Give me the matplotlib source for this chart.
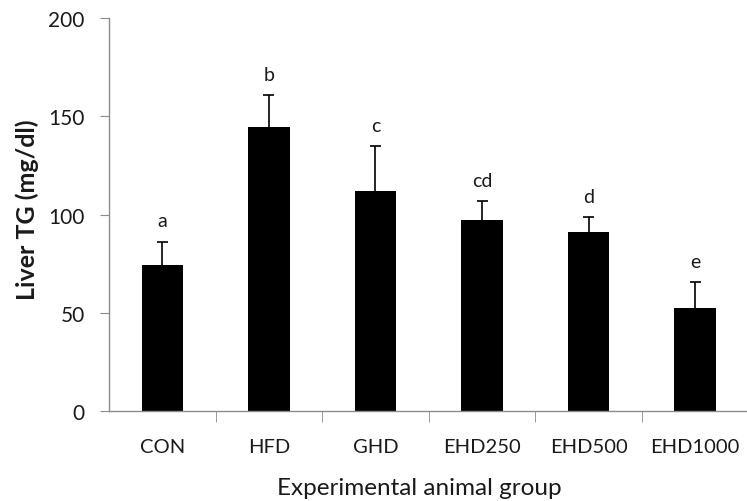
import matplotlib
matplotlib.use("Agg")
import matplotlib.pyplot as plt
import numpy as np

groups = ["CON", "HFD", "GHD", "EHD250", "EHD500", "EHD1000"]
means = [74.4, 144.7, 112.0, 97.4, 91.3, 52.4]
errors = [11.9, 16.1, 22.7, 9.3, 7.4, 13.1]
letters = ["a", "b", "c", "cd", "d", "e"]

plt.rcParams["font.family"] = ["Lato", "DejaVu Sans"]
AXIS_GREY = "#8c8c8c"
TEXT = "#1a1a1a"

fig = plt.figure(figsize=(7.47, 5.02), dpi=100)
ax = fig.add_axes([0.146, 0.179, 0.856, 0.783])

x = np.arange(len(groups))
means = np.array(means)
tops = means + np.array(errors)
# upper error only: stem from bar top, single cap
ax.vlines(x, means, tops, color="black", linewidth=1.2, zorder=1)
ax.hlines(tops, x - 0.052, x + 0.052, color="black", linewidth=1.2, zorder=1)
ax.bar(x, means, width=0.39, color="black", zorder=2)
for xi, t, lab in zip(x, tops, letters):
    ax.annotate(lab, (xi, t), xytext=(0, 9), textcoords="offset points",
                ha="center", va="bottom", fontsize=14, color=TEXT)

ax.set_xlim(-0.5, len(groups) - 0.5)
ax.set_ylim(0, 200)
ax.set_yticks([0, 50, 100, 150, 200])
ax.set_xticks(x)
ax.set_xticklabels(groups, fontsize=14.5, color=TEXT)
ax.set_xticks(np.arange(0.5, len(groups) - 0.5), minor=True)
ax.tick_params(axis="x", which="major", length=0, pad=19)
ax.tick_params(axis="x", which="minor", length=8, color=AXIS_GREY, direction="out")
ax.tick_params(axis="y", length=6.5, color=AXIS_GREY, labelsize=15, labelcolor=TEXT, pad=11)

for side in ["top", "right"]:
    ax.spines[side].set_visible(False)
for side in ["left", "bottom"]:
    ax.spines[side].set_color(AXIS_GREY)
    ax.spines[side].set_linewidth(1.0)

ax.set_ylabel("Liver TG (mg/dl)", fontsize=18, fontweight="bold", labelpad=8, color=TEXT)
ax.yaxis.set_label_coords(-0.11, 0.515)
ax.set_xlabel("Experimental animal group", fontsize=17.5, labelpad=10, color=TEXT)
ax.xaxis.set_label_coords(0.485, -0.168)

fig.savefig("out.png", dpi=100)
